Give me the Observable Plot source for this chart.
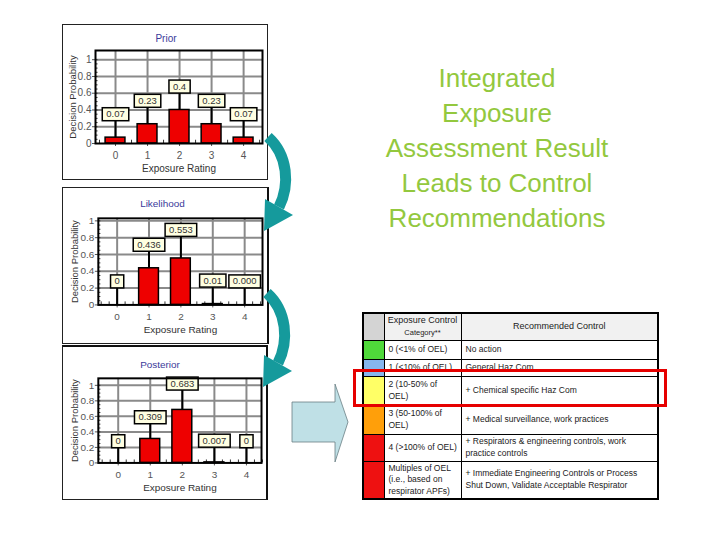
<!DOCTYPE html>
<html>
<head>
<meta charset="utf-8">
<script src="https://cdn.jsdelivr.net/npm/d3@7"></script>
<script src="https://cdn.jsdelivr.net/npm/@observablehq/plot@0.6"></script>
<style>
  html, body { margin: 0; padding: 0; background: #fff; }
  #page { position: relative; width: 720px; height: 540px; overflow: hidden; background: #fff; font-family: 'Liberation Sans', Arial, sans-serif; }
  .panel { position: absolute; box-sizing: border-box; border: 1px solid #222; background: #fff; }
  .panel svg { position: absolute; left: 0; top: 0; overflow: visible; }
  #title { position: absolute; left: 357px; width: 280px; top: 61px; text-align: center; color: #93c83e; font-size: 26px; line-height: 35px; font-family: 'Liberation Sans', Arial, sans-serif; }
  #tbl { position: absolute; left: 362px; top: 312px; width: 295px; table-layout: fixed; border-collapse: collapse; font-family: 'Liberation Sans', Arial, sans-serif; color: #222; border: 2px solid #000; }
  #tbl td { border: 1px solid #000; padding: 0 2px 0 4px; font-size: 8.5px; line-height: 11.5px; vertical-align: middle; white-space: nowrap; overflow: hidden; }
  #tbl td.sw { padding: 0; }
  #tbl tr.hd td { background: #f1f1f1; text-align: center; font-size: 9px; padding: 0 1px; }
  #hl { position: absolute; left: 353px; top: 369px; width: 314px; height: 38px; box-sizing: border-box; border: 3px solid #e60000; }
  #deco { position: absolute; left: 0; top: 0; }
</style>
</head>
<body>
<div id="page"></div>
<script>
// ---- data ----
const ratings = [0, 1, 2, 3, 4];
const yTicks = [0, 0.2, 0.4, 0.6, 0.8, 1];

const priorValues = [0.07, 0.23, 0.4, 0.23, 0.07];
const priorLabels = ["0.07", "0.23", "0.4", "0.23", "0.07"];

const likelihoodValues = [0, 0.436, 0.553, 0.01, 0.000];
const likelihoodLabels = ["0", "0.436", "0.553", "0.01", "0.000"];

const posteriorValues = [0, 0.309, 0.683, 0.007, 0];
const posteriorLabels = ["0", "0.309", "0.683", "0.007", "0"];

const panelTitles = ["Prior", "Likelihood", "Posterior"];
const xAxisLabel = "Exposure Rating";
const yAxisLabel = "Decision Probability";

const titleLines = ["Integrated", "Exposure", "Assessment Result", "Leads to Control", "Recommendations"];

const categoryColors = ["#4fd93a", "#86b6ee", "#ffff66", "#ff9f0a", "#ee1111", "#ee1111"];
const categoryText = [
  ["0 (<1% of OEL)"],
  ["1 (<10% of OEL)"],
  ["2 (10-50% of", "OEL)"],
  ["3 (50-100% of", "OEL)"],
  ["4 (>100% of OEL)"],
  ["Multiples of OEL", "(i.e., based on", "respirator APFs)"]
];
const controlText = [
  ["No action"],
  ["General Haz Com"],
  ["+ Chemical specific Haz Com"],
  ["+ Medical surveillance, work practices"],
  ["+ Respirators & engineering controls, work", "practice controls"],
  ["+ Immediate Engineering Controls or Process", "Shut Down, Validate Acceptable Respirator"]
];

// ---- layout ----
const page = document.getElementById("page");

const panels = [
  {values: priorValues, labels: priorLabels, box: {left: 62, top: 24, w: 206, h: 156, style: ""},
   m: {l: 33, r: 6, t: 26, b: 37}, xd: [-0.625, 4.59], yMax: 1.11, titleDy: -12, titleDx: -13},
  {values: likelihoodValues, labels: likelihoodLabels, box: {left: 62, top: 187, w: 207, h: 157, style: "border-right:2px solid #111;"},
   m: {l: 36, r: 6, t: 31, b: 39}, xd: [-0.59, 4.56], yMax: 1.03, titleDy: -15, titleDx: -18},
  {values: posteriorValues, labels: posteriorLabels, box: {left: 62, top: 345, w: 206, h: 155, style: "border-top:2px solid #111;border-right:2px solid #111;"},
   m: {l: 36, r: 6, t: 32, b: 38}, xd: [-0.62, 4.47], yMax: 1.09, titleDy: -14, titleDx: -20}
];

function addLabelBoxes(svg) {
  const g = svg.querySelectorAll('g[aria-label="text"]')[0];
  if (!g) return;
  g.querySelectorAll("text").forEach(t => {
    const b = t.getBBox();
    const r = document.createElementNS("http://www.w3.org/2000/svg", "rect");
    r.setAttribute("x", b.x - 4);
    r.setAttribute("y", b.y - 0.5);
    r.setAttribute("width", b.width + 8);
    r.setAttribute("height", b.height + 2);
    if (t.getAttribute("transform")) r.setAttribute("transform", t.getAttribute("transform"));
    r.setAttribute("fill", "#ffffe2");
    r.setAttribute("stroke", "#000");
    r.setAttribute("stroke-width", 1.5);
    t.parentNode.insertBefore(r, t);
  });
}

panels.forEach((p, i) => {
  const div = document.createElement("div");
  div.className = "panel";
  div.style.cssText = `left:${p.box.left}px;top:${p.box.top}px;width:${p.box.w}px;height:${p.box.h}px;${p.box.style}`;
  page.appendChild(div);

  const data = ratings.map((r, k) => ({
    r, v: p.values[k], label: p.labels[k],
    ly: p.values[k] + 0.28 + (p.values[k] > 0.5 ? 0.06 : 0)
  }));
  const minorX = d3.range(-0.5, 4.51, 0.25);
  const minorY = d3.range(0, 1.001, 0.05);

  const svg = Plot.plot({
    width: p.box.w - 2, height: p.box.h - 2,
    marginLeft: p.m.l - 1, marginRight: p.m.r - 1, marginTop: p.m.t - 1, marginBottom: p.m.b - 1,
    style: {background: "transparent", fontFamily: "'Liberation Sans', Arial, sans-serif", fontSize: "10px", color: "#555", overflow: "visible"},
    x: {domain: p.xd, ticks: ratings, tickFormat: d => String(d), tickSize: 3, tickPadding: 5, label: null},
    y: {domain: [0, p.yMax], ticks: yTicks, tickFormat: d => String(+d.toFixed(1)), tickSize: 3, tickPadding: 1, label: null},
    marks: [
      Plot.ruleX(ratings, {stroke: "#8a8a8a", strokeWidth: 2}),
      Plot.ruleY(yTicks.slice(1), {stroke: "#8a8a8a", strokeWidth: 2}),
      Plot.ruleX(minorX, {y1: 0, y2: p.yMax * 0.035, stroke: "#333", strokeWidth: 1}),
      Plot.ruleY(minorY, {x1: p.xd[0], x2: p.xd[0] + 0.08, stroke: "#333", strokeWidth: 1}),
      Plot.rectY(data, {x1: d => d.r - 0.31, x2: d => d.r + 0.31, y1: 0, y2: "v",
        fill: "#ee0000", stroke: d => d.v > 0 ? "#000" : "#e84040", strokeWidth: 1.5}),
      Plot.ruleX(data, {x: "r", y1: "v", y2: "ly", stroke: "#000", strokeWidth: 2}),
      Plot.text(data, {x: "r", y: "ly", text: "label", fill: "#333", fontSize: 9.5, lineAnchor: "middle"}),
      Plot.frame({stroke: "#000", strokeWidth: 2}),
      Plot.text([panelTitles[i]], {frameAnchor: "top", dy: p.titleDy, dx: p.titleDx, fill: "#3a3a9a", fontSize: 10, lineAnchor: "middle", textAnchor: "middle"}),
      Plot.text([xAxisLabel], {frameAnchor: "bottom", dy: 25, fill: "#333", fontSize: 10, lineAnchor: "middle", textAnchor: "middle"}),
      Plot.text([yAxisLabel], {frameAnchor: "left", dx: -23, rotate: -90, fill: "#333", fontSize: 9.5, lineAnchor: "middle", textAnchor: "middle"})
    ]
  });
  div.appendChild(svg);
  addLabelBoxes(svg);
});

// ---- title ----
const title = document.createElement("div");
title.id = "title";
title.innerHTML = titleLines.join("<br>");
page.appendChild(title);

// ---- table ----
const tbl = document.createElement("table");
tbl.id = "tbl";
const rowHeights = [27, 19, 17, 29, 29, 27, 38];
let html = `<colgroup><col style="width:21px"><col style="width:77px"><col style="width:197px"></colgroup>` +
  `<tr class="hd" style="height:${rowHeights[0]}px"><td class="sw" style="background:#d4d4d4"></td>` +
  `<td>Exposure Control<br><span style="font-size:7.5px">Category**</span></td>` +
  `<td>Recommended Control</td></tr>`;
categoryColors.forEach((c, k) => {
  html += `<tr style="height:${rowHeights[k + 1]}px"><td class="sw" style="background:${c}"></td>` +
    `<td>${categoryText[k].join("<br>")}</td><td>${controlText[k].join("<br>")}</td></tr>`;
});
tbl.innerHTML = html;
page.appendChild(tbl);

const hl = document.createElement("div");
hl.id = "hl";
page.appendChild(hl);

// ---- decorative arrows ----
const ns = "http://www.w3.org/2000/svg";
const deco = document.createElementNS(ns, "svg");
deco.setAttribute("id", "deco");
deco.setAttribute("width", 720);
deco.setAttribute("height", 540);
deco.innerHTML = `
  <g id="curl">
    <path d="M268 137 C288 155, 290 185, 279 207" fill="none" stroke="#159a9c" stroke-width="11"/>
    <polygon points="265,199 293,215 264,231" fill="#159a9c"/>
  </g>
  <use href="#curl" transform="translate(-1,156)"/>
  <polygon points="292,402 335,402 335,384 348,422 335,462 335,442 292,442" fill="#bfe0e6" stroke="#6a7f84" stroke-width="0.8"/>
`;
page.appendChild(deco);
</script>
</body>
</html>
